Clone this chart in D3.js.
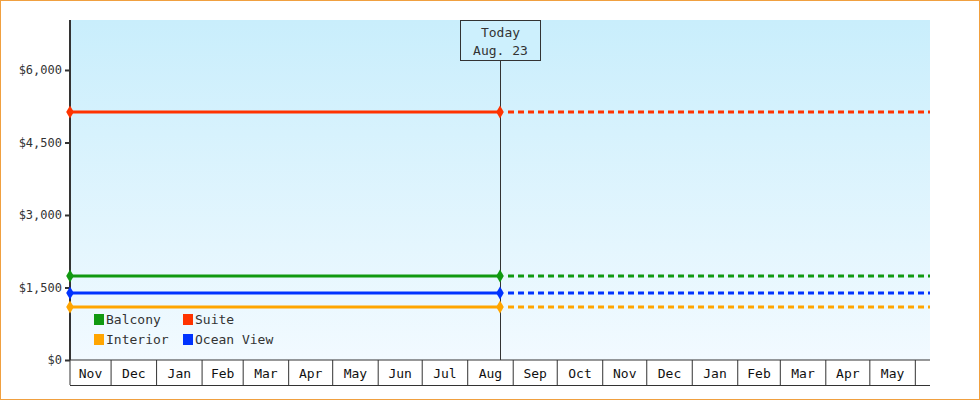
<!DOCTYPE html><html><head><meta charset="utf-8">
<script src="https://cdn.jsdelivr.net/npm/d3@7"></script>
<style>body{margin:0}svg{font-family:"DejaVu Sans Mono",monospace}</style></head><body>
<svg id="c" width="980" height="400"></svg>
<script>
const series=["Balcony","Suite","Interior","Ocean View"];
const colors=["#119911","#ff3300","#ffa500","#0033ff"];
const prices=[1738,5131,1097,1386];
const yTicks=[0,1500,3000,4500,6000];
const startDate=new Date(2022,10,3), todayDate=new Date(2023,7,23), endDate=new Date(2024,5,11);
const todayLabel=["Today","Aug. 23"];

const svg=d3.select("#c");
const L=70,R=930,T=20,B=360;
const x=d3.scaleTime().domain([startDate,endDate]).range([L,R]);
const y=d3.scaleLinear().domain([0,7034]).range([B,T]);
svg.append("rect").attr("x",0.5).attr("y",0.5).attr("width",979).attr("height",399).attr("fill","#fff").attr("stroke","#f0a040");
const g=svg.append("defs").append("linearGradient").attr("id","bg").attr("x1",0).attr("x2",0).attr("y1",0).attr("y2",1);
g.append("stop").attr("offset","0").attr("stop-color","#c9eefc");
g.append("stop").attr("offset","1").attr("stop-color","#f2faff");
svg.append("rect").attr("x",L).attr("y",T).attr("width",R-L).attr("height",B-T).attr("fill","url(#bg)");
const ya=svg.append("g").attr("transform",`translate(${L},0)`).call(d3.axisLeft(y).tickValues(yTicks).tickSize(5).tickFormat(d=>"$"+d3.format(",")(d)));
ya.select(".domain").remove();
ya.selectAll("text").attr("font-family","DejaVu Sans Mono").attr("font-size",12).attr("fill","#333");
ya.selectAll("line").attr("stroke","#333").attr("stroke-width",2);
svg.append("line").attr("x1",L).attr("x2",L).attr("y1",T).attr("y2",B).attr("stroke","#333").attr("stroke-width",2);
svg.append("line").attr("x1",L).attr("x2",R).attr("y1",B).attr("y2",B).attr("stroke","#333").attr("stroke-width",1);
const months=d3.timeMonth.range(d3.timeMonth.floor(startDate),endDate);
const fmt=d3.timeFormat("%b");
months.forEach((m,i)=>{
  const a=Math.max(L,x(m)), b=Math.min(R,x(d3.timeMonth.offset(m,1)));
  if(b<R) svg.append("line").attr("x1",b).attr("x2",b).attr("y1",B).attr("y2",385).attr("stroke","#333");
  if(b-a>30) svg.append("text").attr("x",(a+b)/2).attr("y",378).attr("text-anchor","middle").attr("font-size",13).attr("fill","#111").text(fmt(m));
});
svg.append("line").attr("x1",L).attr("x2",L).attr("y1",B).attr("y2",385).attr("stroke","#333");
svg.append("line").attr("x1",L).attr("x2",R).attr("y1",385.5).attr("y2",385.5).attr("stroke","#333");
const tx=Math.round(x(todayDate))+0.5;
svg.append("line").attr("x1",tx).attr("x2",tx).attr("y1",60).attr("y2",B).attr("stroke","#333");
svg.append("rect").attr("x",tx-40).attr("y",20.5).attr("width",80).attr("height",40).attr("fill","#cdf0fd").attr("stroke","#333");
todayLabel.forEach((t,i)=>svg.append("text").attr("x",tx).attr("y",37+i*18).attr("text-anchor","middle").attr("font-size",13).attr("fill","#333").text(t));
series.forEach((s,i)=>{
  const yy=y(prices[i]);
  svg.append("line").attr("x1",x(startDate)).attr("x2",x(todayDate)).attr("y1",yy).attr("y2",yy).attr("stroke",colors[i]).attr("stroke-width",3);
  svg.append("line").attr("x1",x(todayDate)+8).attr("x2",R).attr("y1",yy).attr("y2",yy).attr("stroke",colors[i]).attr("stroke-width",3).attr("stroke-dasharray","6,4");
  [startDate,todayDate].forEach(d=>svg.append("path").attr("d",d3.symbol(d3.symbolDiamond,50)()).attr("transform",`translate(${x(d)},${yy})`).attr("fill",colors[i]));
});
series.forEach((s,i)=>{
  const lx=94+(i%2)*89, ly=314+Math.floor(i/2)*20;
  svg.append("rect").attr("x",lx).attr("y",ly).attr("width",10).attr("height",11).attr("fill",colors[i]);
  svg.append("text").attr("x",lx+12).attr("y",ly+10).attr("font-size",13).attr("fill","#333").text(s);
});
</script></body></html>
